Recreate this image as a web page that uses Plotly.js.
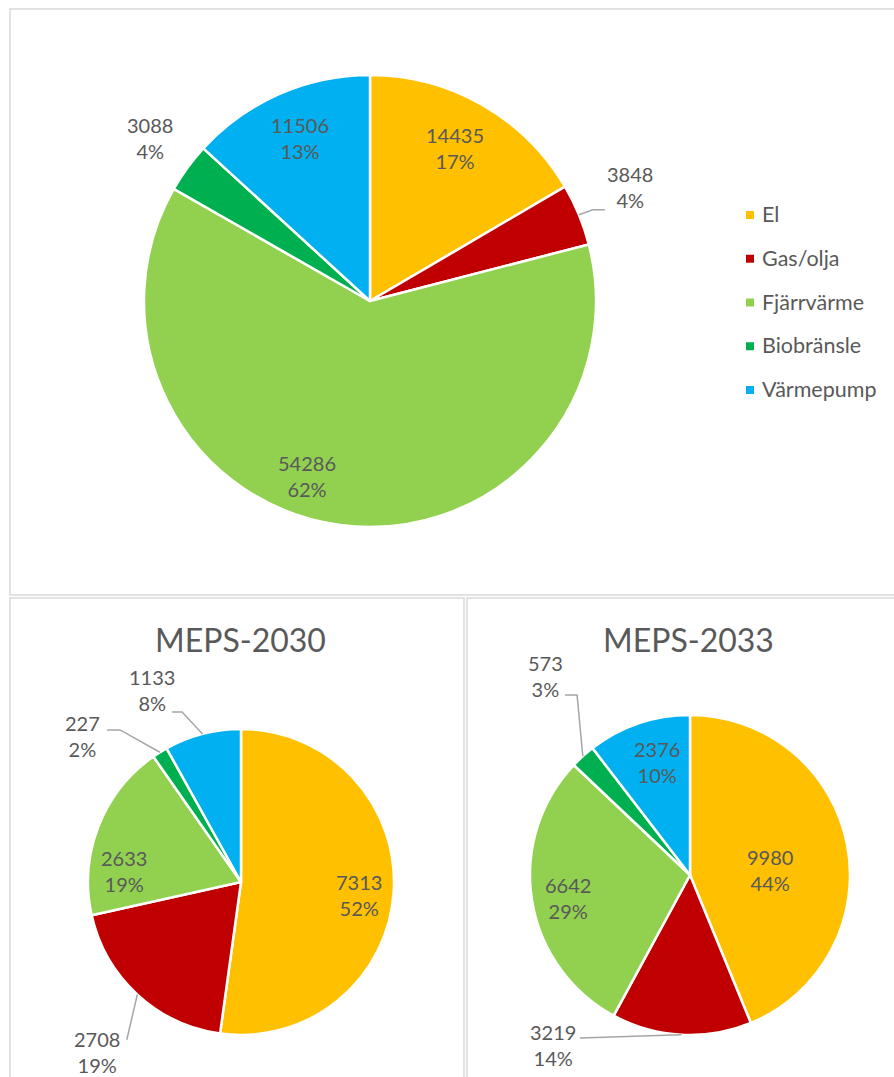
<!DOCTYPE html>
<html>
<head>
<meta charset="utf-8">
<script src="https://cdn.plot.ly/plotly-3.0.1.min.js"></script>
<style>html,body{margin:0;padding:0;background:#fff;}#chart{width:894px;height:1077px;}</style>
</head>
<body>
<div id="chart"></div>
<script>
// ---------- DATA ----------
const categories = ['El', 'Gas/olja', 'Fjärrvärme', 'Biobränsle', 'Värmepump'];
const valuesTotal = [14435, 3848, 54286, 3088, 11506];
const valuesMeps2030 = [7313, 2708, 2633, 227, 1133];
const valuesMeps2033 = [9980, 3219, 6642, 573, 2376];
const chartTitles = ['', 'MEPS-2030', 'MEPS-2033'];

// ---------- STYLE ----------
const W = 894, H = 1077;
const colors = ['#FFC000', '#C00000', '#92D050', '#00B050', '#00B0F0'];
const textColor = '#595959';
const fontFamily = 'Lato, "Open Sans", sans-serif';
const labelSize = 20;
const leaderColor = '#A6A6A6';

// pie geometry (pixels) and label placement (radius factor, angle nudge, leader)
const charts = [
  {values: valuesTotal, title: chartTitles[0], cx: 370, cy: 301, r: 226,
   frame: [10, 9, 900, 595],
   labels: [
     {rf: 0.774, da: -0.7},
     {rf: 1.256, da: -1.3, leader: {dx: -25, dy: 23, elbow: -12}},
     {rf: 0.823, da: 12.2},
     {rf: 1.21, da: 0.5},
     {rf: 0.785, da: 0.6}
   ]},
  {values: valuesMeps2030, title: chartTitles[1], cx: 241, cy: 882, r: 153,
   frame: [10, 598, 464, 1090], titleX: 240, titleY: 640,
   labels: [
     {rf: 0.776, da: 2.4},
     {rf: 1.456, da: -2.3, leader: {dx: 30, dy: -12, elbow: 0}},
     {rf: 0.768, da: -15.9},
     {rf: 1.411, da: -15.4, leader: {dx: 25, dy: -6, elbow: 13}},
     {rf: 1.383, da: -10.3, leader: {dx: 20, dy: 22, elbow: 10}}
   ]},
  {values: valuesMeps2033, title: chartTitles[2], cx: 690, cy: 875, r: 160,
   frame: [467, 598, 900, 1090], titleX: 688, titleY: 640,
   labels: [
     {rf: 0.50, da: 7.6},
     {rf: 1.365, da: 35.8, leader: {dx: 27, dy: -7, elbow: 0}},
     {rf: 0.776, da: -1.6},
     {rf: 1.539, da: 6.0, leader: {dx: 20, dy: 19, elbow: 12}},
     {rf: 0.736, da: 2.5}
   ]}
];

const px = x => x / W;
const py = y => 1 - y / H;

const traces = [];
const annotations = [];
const shapes = [];

charts.forEach((c, ci) => {
  // frame
  shapes.push({type: 'rect', xref: 'paper', yref: 'paper',
    x0: px(c.frame[0]), x1: px(c.frame[2]), y0: py(c.frame[1]), y1: py(c.frame[3]),
    line: {color: '#D9D9D9', width: 1.5}, fillcolor: 'rgba(0,0,0,0)', layer: 'below'});

  traces.push({
    type: 'pie', values: c.values, labels: categories, sort: false,
    direction: 'clockwise', rotation: 0,
    marker: {colors: colors, line: {color: '#FFFFFF', width: 2.5}},
    textinfo: 'none', hoverinfo: 'none', showlegend: false,
    domain: {x: [px(c.cx - c.r), px(c.cx + c.r)], y: [py(c.cy + c.r), py(c.cy - c.r)]}
  });

  const total = c.values.reduce((a, b) => a + b, 0);
  let cum = 0;
  c.values.forEach((v, i) => {
    const mid = (cum + v / 2) / total * 360;
    cum += v;
    const L = c.labels[i];
    const a = (mid + L.da) * Math.PI / 180;
    const lx = c.cx + L.rf * c.r * Math.sin(a);
    const ly = c.cy - L.rf * c.r * Math.cos(a);
    const pct = Math.round(v / total * 100);
    annotations.push({xref: 'paper', yref: 'paper', x: px(lx), y: py(ly),
      xanchor: 'center', yanchor: 'middle', showarrow: false, align: 'center',
      text: v + '<br>' + pct + '%',
      font: {family: fontFamily, size: labelSize, color: textColor}});
    if (L.leader) {
      const m = mid * Math.PI / 180;
      const ex = c.cx + c.r * Math.sin(m), ey = c.cy - c.r * Math.cos(m);
      const tx = lx + L.leader.dx, ty = ly + L.leader.dy;
      let path = 'M ' + px(ex) + ' ' + py(ey);
      if (L.leader.elbow) path += ' L ' + px(tx + L.leader.elbow) + ' ' + py(ty);
      path += ' L ' + px(tx) + ' ' + py(ty);
      shapes.push({type: 'path', xref: 'paper', yref: 'paper', path: path,
        line: {color: leaderColor, width: 1.5}});
    }
  });

  if (c.title) {
    annotations.push({xref: 'paper', yref: 'paper', x: px(c.titleX), y: py(c.titleY),
      xanchor: 'center', yanchor: 'middle', showarrow: false, text: c.title,
      font: {family: fontFamily, size: 32, color: textColor}});
  }
});

// legend (top chart)
const legX = 746, legY0 = 215, legStep = 43.75, sq = 8;
categories.forEach((cat, i) => {
  const y = legY0 + i * legStep;
  shapes.push({type: 'rect', xref: 'paper', yref: 'paper',
    x0: px(legX), x1: px(legX + sq), y0: py(y + sq / 2), y1: py(y - sq / 2),
    fillcolor: colors[i], line: {width: 0}});
  annotations.push({xref: 'paper', yref: 'paper', x: px(legX + 14), y: py(y - 1),
    xanchor: 'left', yanchor: 'middle', showarrow: false, text: cat,
    font: {family: fontFamily, size: 21.5, color: textColor}});
});

const layout = {
  width: W, height: H, margin: {l: 0, r: 0, t: 0, b: 0},
  paper_bgcolor: '#FFFFFF', plot_bgcolor: '#FFFFFF',
  showlegend: false, annotations: annotations, shapes: shapes
};

Plotly.newPlot('chart', traces, layout, {staticPlot: true, displayModeBar: false});
</script>
</body>
</html>
